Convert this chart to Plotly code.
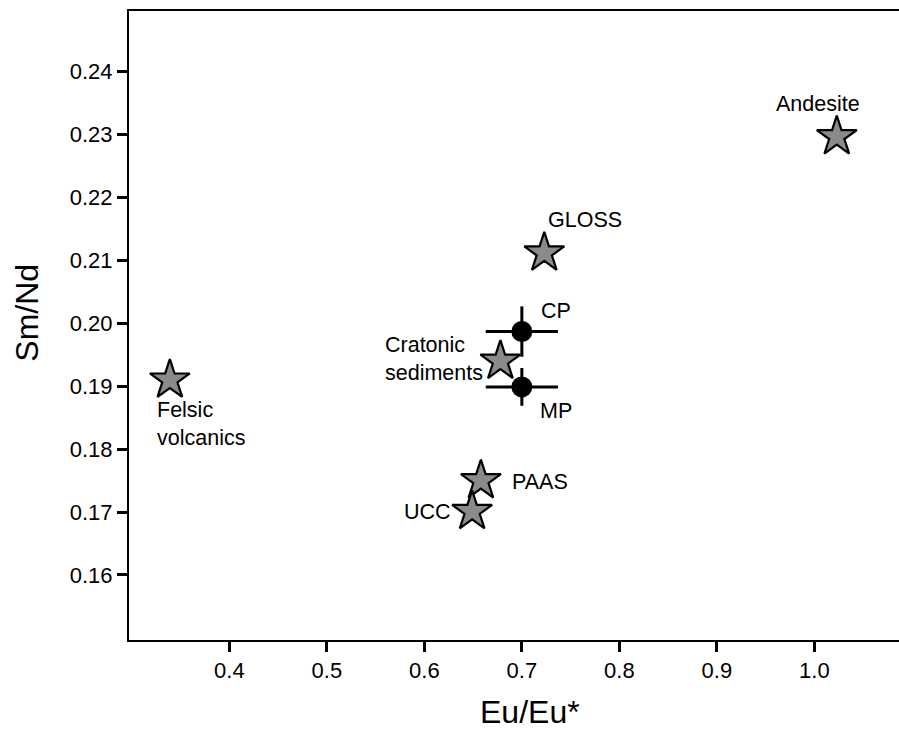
import plotly.graph_objects as go

# Reference compositions (stars)
ref_names = ["Andesite", "GLOSS", "Cratonic sediments", "Felsic volcanics", "PAAS", "UCC"]
ref_eu = [1.023, 0.723, 0.678, 0.339, 0.658, 0.649]
ref_smnd = [0.2297, 0.2112, 0.1940, 0.1910, 0.1750, 0.1701]

# Samples with error bars (circles)
smp_names = ["CP", "MP"]
smp_eu = [0.700, 0.700]
smp_smnd = [0.1987, 0.1899]
smp_eu_err = [0.037, 0.037]
smp_smnd_err = [0.0040, 0.0030]

# Label positions (data coords) and anchors
lab_text = ["Andesite", "GLOSS", "Cratonic<br>sediments", "Felsic<br>volcanics", "PAAS", "UCC", "CP", "MP"]
lab_x = [1.004, 0.7646, 0.558, 0.3235, 0.6880, 0.6290, 0.7175, 0.7165]
lab_y = [0.2348, 0.2165, 0.1943, 0.1840, 0.1748, 0.1700, 0.2019, 0.1860]
lab_xanchor = ["center", "center", "left", "left", "left", "right", "left", "left"]

tick_x = [0.4, 0.5, 0.6, 0.7, 0.8, 0.9, 1.0]
tick_x_text = ["0.4", "0.5", "0.6", "0.7", "0.8", "0.9", "1.0"]
tick_y = [0.16, 0.17, 0.18, 0.19, 0.20, 0.21, 0.22, 0.23, 0.24]
tick_y_text = ["0.16", "0.17", "0.18", "0.19", "0.20", "0.21", "0.22", "0.23", "0.24"]

FONT = "Liberation Sans, Arial, sans-serif"

fig = go.Figure()

fig.add_trace(go.Scatter(
    x=smp_eu, y=smp_smnd, mode="markers",
    marker=dict(symbol="circle", size=21, color="black"),
    error_x=dict(type="data", array=smp_eu_err, color="black", thickness=3, width=0),
    error_y=dict(type="data", array=smp_smnd_err, color="black", thickness=3, width=0),
    showlegend=False, hoverinfo="skip",
))

fig.add_trace(go.Scatter(
    x=ref_eu, y=ref_smnd, mode="markers",
    marker=dict(symbol="star", size=30, color="#8a8a8a", line=dict(color="black", width=2.2)),
    showlegend=False, text=ref_names,
))

for t, x, y, xa in zip(lab_text, lab_x, lab_y, lab_xanchor):
    fig.add_annotation(x=x, y=y, text=t, showarrow=False, xanchor=xa, yanchor="middle",
                       align="left", font=dict(family=FONT, size=21.5, color="black"))

# Axis titles as annotations for exact placement
fig.add_annotation(xref="paper", yref="paper", x=(530 - 129) / 770, y=-(712 - 640) / 628.3,
                   text="Eu/Eu*", showarrow=False, xanchor="center", yanchor="middle",
                   font=dict(family=FONT, size=32, color="black"))
fig.add_annotation(xref="paper", yref="paper", x=-(129 - 27) / 770, y=(640 - 313) / 628.3,
                   text="Sm/Nd", showarrow=False, xanchor="center", yanchor="middle", textangle=-90,
                   font=dict(family=FONT, size=32, color="black"))

fig.update_layout(
    width=899, height=729,
    margin=dict(l=129, r=0, t=11, b=89),
    plot_bgcolor="white", paper_bgcolor="white",
    font=dict(family=FONT, size=22, color="black"),
)
fig.update_xaxes(range=[0.2971, 1.0868], showgrid=False, zeroline=False,
                 showline=True, linecolor="black", linewidth=2, mirror=True,
                 ticks="outside", ticklen=10, tickwidth=2.5, tickcolor="black",
                 ticklabelstandoff=0,
                 tickvals=tick_x, ticktext=tick_x_text, tickfont=dict(family=FONT, size=22))
fig.update_yaxes(range=[0.14966, 0.24966], showgrid=False, zeroline=False,
                 showline=True, linecolor="black", linewidth=2,
                 ticks="outside", ticklen=10, tickwidth=2.5, tickcolor="black",
                 ticklabelstandoff=0,
                 tickvals=tick_y, ticktext=tick_y_text, tickfont=dict(family=FONT, size=22))

fig.write_html("out.html")
